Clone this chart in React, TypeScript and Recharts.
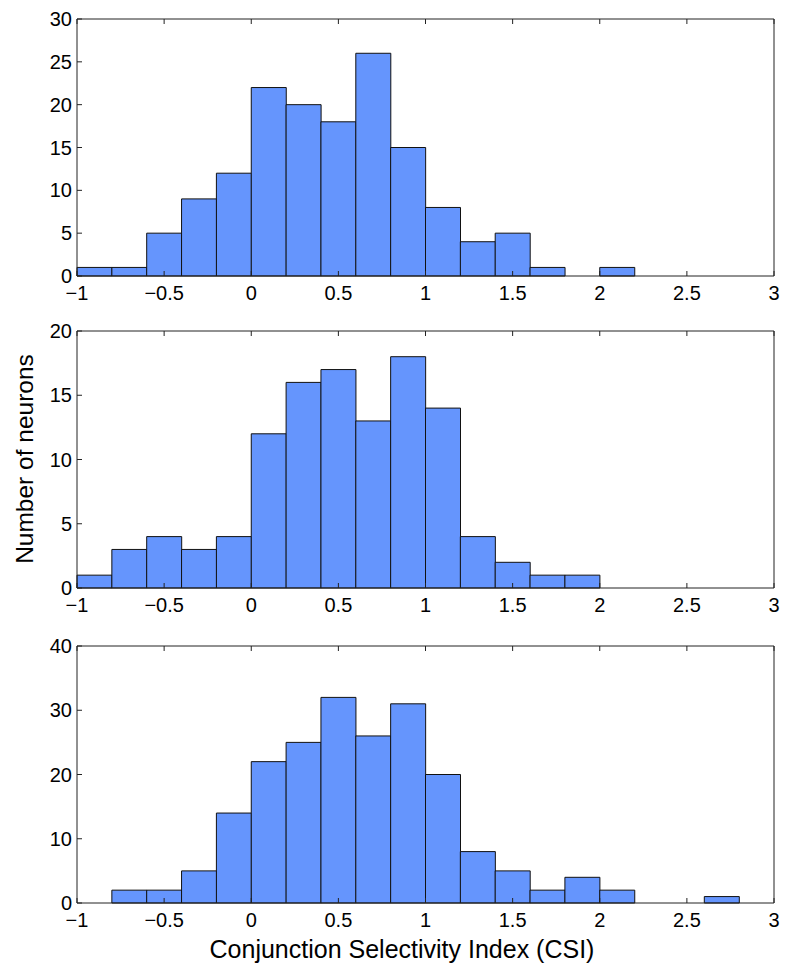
import { BarChart, Bar, XAxis, YAxis } from "recharts";

// histogram bins: 0.2 wide, from -1 to 3
const binStarts = [-1, -0.8, -0.6, -0.4, -0.2, 0, 0.2, 0.4, 0.6, 0.8, 1, 1.2, 1.4, 1.6, 1.8, 2, 2.2, 2.4, 2.6, 2.8];

const topCounts = [1, 1, 5, 9, 12, 22, 20, 18, 26, 15, 8, 4, 5, 1, 0, 1, 0, 0, 0, 0];
const midCounts = [1, 3, 4, 3, 4, 12, 16, 17, 13, 18, 14, 4, 2, 1, 1, 0, 0, 0, 0, 0];
const bottomCounts = [0, 2, 2, 5, 14, 22, 25, 32, 26, 31, 20, 8, 5, 2, 4, 2, 0, 0, 1, 0];

const xTicks = [-1, -0.5, 0, 0.5, 1, 1.5, 2, 2.5, 3];
const topYTicks = [0, 5, 10, 15, 20, 25, 30];
const midYTicks = [0, 5, 10, 15, 20];
const bottomYTicks = [0, 10, 20, 30, 40];

const FONT = "'Liberation Sans', Arial, Helvetica, sans-serif";
const BAR_FILL = "#6595fd";
const EDGE = "#111";
const AXIS = "#222";

const W = 794;
const H = 320;
const M_TOP = 18; // + 1px top axis
const M_LEFT = 17;
const Y_W = 60;
const M_RIGHT = 19; // + 1px right axis
const PLOT_H = 257;
const X_H = 30;
const M_BOTTOM = H - M_TOP - 1 - PLOT_H - X_H;
const LEFT = M_LEFT + Y_W;
const RIGHT = W - M_RIGHT - 1;
const TOP = M_TOP + 1;
const BOTTOM = TOP + PLOT_H;
const TICK = 5;

const fmt = (v: number) => (v < 0 ? "\u2212" + String(-v) : String(v));

function BottomTick(props: any) {
  const { x, payload } = props;
  return (
    <g>
      <line x1={x} x2={x} y1={BOTTOM} y2={BOTTOM - TICK} stroke={AXIS} />
      <text x={x} y={BOTTOM + 24} textAnchor="middle" fontSize={20} fontFamily={FONT} fill="#000">
        {fmt(payload.value)}
      </text>
    </g>
  );
}

function TopTick(props: any) {
  const { x } = props;
  return <line x1={x} x2={x} y1={TOP} y2={TOP + TICK} stroke={AXIS} />;
}

function LeftTick(props: any) {
  const { y, payload } = props;
  return (
    <g>
      <line x1={LEFT} x2={LEFT + TICK} y1={y} y2={y} stroke={AXIS} />
      <text x={LEFT - 5} y={y + 7} textAnchor="end" fontSize={20} fontFamily={FONT} fill="#000">
        {payload.value}
      </text>
    </g>
  );
}

function RightTick(props: any) {
  const { y } = props;
  return <line x1={RIGHT} x2={RIGHT - TICK} y1={y} y2={y} stroke={AXIS} />;
}

function Panel({ counts, yTicks, offset }: { counts: number[]; yTicks: number[]; offset: number }) {
  const data = binStarts.map((start, i) => ({ bin: String(i), start, count: counts[i] }));
  const yMax = yTicks[yTicks.length - 1];
  return (
    <div style={{ position: "absolute", left: 0, top: offset }}>
      <BarChart
        width={W}
        height={H}
        data={data}
        margin={{ top: M_TOP, right: M_RIGHT, bottom: M_BOTTOM, left: M_LEFT }}
        barCategoryGap={0}
        barGap={0}
      >
        <XAxis xAxisId="cat" dataKey="bin" hide height={0} />
        <XAxis
          xAxisId="num"
          dataKey="start"
          type="number"
          domain={[-1, 3]}
          allowDataOverflow
          ticks={xTicks}
          interval={0}
          height={X_H}
          axisLine={{ stroke: AXIS }}
          tickLine={false}
          tick={<BottomTick />}
        />
        <XAxis
          xAxisId="top"
          orientation="top"
          dataKey="start"
          type="number"
          domain={[-1, 3]}
          allowDataOverflow
          ticks={xTicks}
          interval={0}
          height={1}
          axisLine={{ stroke: AXIS }}
          tickLine={false}
          tick={<TopTick />}
        />
        <YAxis
          yAxisId="left"
          domain={[0, yMax]}
          ticks={yTicks}
          interval={0}
          width={Y_W}
          axisLine={{ stroke: AXIS }}
          tickLine={false}
          tick={<LeftTick />}
        />
        <YAxis
          yAxisId="right"
          orientation="right"
          domain={[0, yMax]}
          ticks={yTicks}
          interval={0}
          width={1}
          axisLine={{ stroke: AXIS }}
          tickLine={false}
          tick={<RightTick />}
        />
        <Bar
          xAxisId="cat"
          yAxisId="left"
          dataKey="count"
          fill={BAR_FILL}
          stroke={EDGE}
          strokeWidth={1}
          isAnimationActive={false}
        />
      </BarChart>
    </div>
  );
}

export default function App() {
  return (
    <div style={{ position: "absolute", left: 0, top: 0, width: 794, height: 972, background: "#fff" }}>
      <Panel counts={topCounts} yTicks={topYTicks} offset={0} />
      <Panel counts={midCounts} yTicks={midYTicks} offset={312} />
      <Panel counts={bottomCounts} yTicks={bottomYTicks} offset={627} />
      <svg width={794} height={972} style={{ position: "absolute", left: 0, top: 0, pointerEvents: "none" }}>
        <text
          transform="translate(33, 459) rotate(-90)"
          textAnchor="middle"
          fontSize={24.5}
          fontFamily={FONT}
          fill="#000"
        >
          Number of neurons
        </text>
        <text x={402} y={958} textAnchor="middle" fontSize={25} fontFamily={FONT} fill="#000">
          Conjunction Selectivity Index (CSI)
        </text>
      </svg>
    </div>
  );
}
